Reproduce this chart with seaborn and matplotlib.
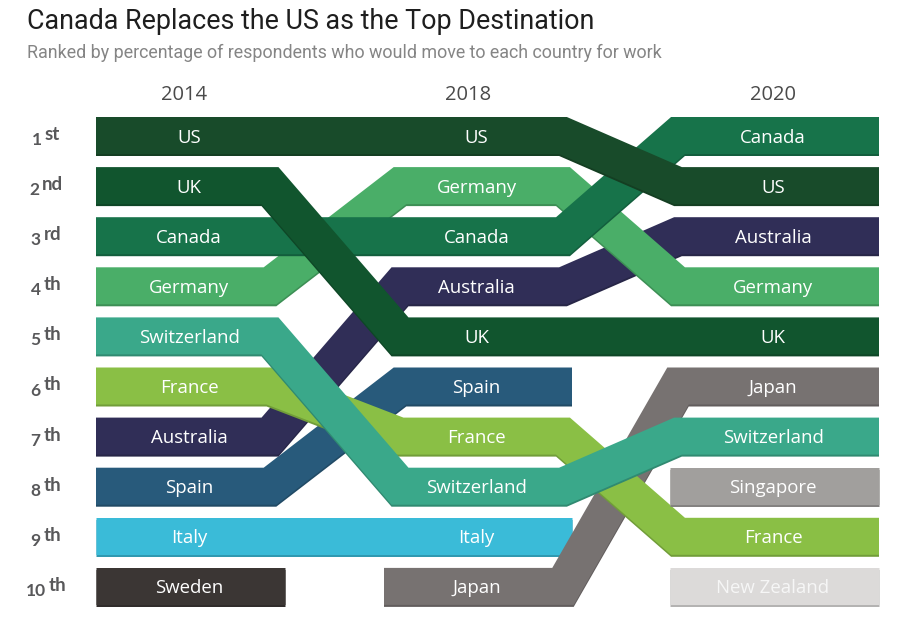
import matplotlib
matplotlib.use("Agg")
import matplotlib.pyplot as plt
import matplotlib.patheffects as pe
import matplotlib.colors as mcolors
import seaborn as sns
import pandas as pd

# ---------------- data ----------------
years = [2014, 2018, 2020]
rank_2014 = ["US", "UK", "Canada", "Germany", "Switzerland", "France",
             "Australia", "Spain", "Italy", "Sweden"]
rank_2018 = ["US", "Germany", "Canada", "Australia", "UK", "Spain",
             "France", "Switzerland", "Italy", "Japan"]
rank_2020 = ["Canada", "US", "Australia", "Germany", "UK", "Japan",
             "Switzerland", "Singapore", "France", "New Zealand"]
rank_numbers = ["1", "2", "3", "4", "5", "6", "7", "8", "9", "10"]
rank_suffixes = ["st", "nd", "rd", "th", "th", "th", "th", "th", "th", "th"]

title = "Canada Replaces the US as the Top Destination"
subtitle = "Ranked by percentage of respondents who would move to each country for work"

# ---------------- style ----------------
colors = {
    "US": "#184b2a", "UK": "#11552e", "Canada": "#17734a", "Germany": "#4aae68",
    "Switzerland": "#3aa88a", "France": "#8abf45", "Australia": "#302e57",
    "Spain": "#285a7b", "Italy": "#3abbd8", "Sweden": "#3b3634",
    "Japan": "#777271", "Singapore": "#a19f9d", "New Zealand": "#dcdad9",
}
label_colors = {"New Zealand": "#f6f6f6"}
draw_order = ["Italy", "Sweden", "Spain", "Australia", "Germany", "Canada", "US",
              "UK", "Japan", "France", "Switzerland", "Singapore", "New Zealand"]

sns.set_theme(style="white")
plt.rcParams["font.family"] = ["Open Sans", "DejaVu Sans"]

W, H, DPI = 900, 624, 100
fig = plt.figure(figsize=(W / DPI, H / DPI), dpi=DPI)
fig.patch.set_facecolor("white")
ax = fig.add_axes([0, 0, 1, 1])
ax.set_xlim(0, W)
row_top_px, row_step = 135.5, 50.1
ax.set_ylim(1 + (H - row_top_px) / row_step, 1 - row_top_px / row_step)
ax.axis("off")

block_start = [96, 384, 670]
block_end = [285, 572, 879]
gap_from = [270, 563]
gap_to = [400, 678]
year_x = [184, 468, 773]


def px2pt(p):
    return p * 72 / DPI


def darker(c, f=0.82):
    r, g, b = mcolors.to_rgb(c)
    return (r * f, g * f, b * f)


records = []
for yr, lst in zip(years, [rank_2014, rank_2018, rank_2020]):
    for i, c in enumerate(lst):
        records.append(dict(country=c, year=yr, rank=i + 1))
df = pd.DataFrame(records)

for z, c in enumerate(draw_order):
    sub = df[df.country == c].sort_values("year")
    idx = [years.index(y) for y in sub["year"]]
    ranks = list(sub["rank"])
    xs = [block_start[idx[0]]]
    ys = [ranks[0]]
    for k in range(1, len(idx)):
        if ranks[k] != ranks[k - 1]:
            g = idx[k - 1]
            xs += [gap_from[g], gap_to[g]]
            ys += [ranks[k - 1], ranks[k]]
    xs.append(block_end[idx[-1]])
    ys.append(ranks[-1])
    path = pd.DataFrame({"x": xs, "y": ys})
    sns.lineplot(data=path, x="x", y="y", sort=False, estimator=None, ax=ax,
                 color=colors[c], linewidth=px2pt(37),
                 solid_joinstyle="miter", solid_capstyle="butt", zorder=2 + z,
                 path_effects=[pe.SimpleLineShadow(offset=(0, -px2pt(2)),
                                                   shadow_color=darker(colors[c]), alpha=1),
                               pe.Normal()])

# bar labels
for yi, lst in enumerate([rank_2014, rank_2018, rank_2020]):
    cx = (block_start[yi] + block_end[yi]) / 2 - 1.5
    for i, c in enumerate(lst):
        ax.text(cx, i + 1, c, ha="center", va="center_baseline", fontsize=13.4,
                color=label_colors.get(c, "white"), zorder=50)

# year labels
for yi, yr in enumerate(years):
    fig.text(year_x[yi] / W, 1 - 95 / H, str(yr), ha="center", va="center",
             fontsize=14.5, color="#4a4a4a", family=["Open Sans", "DejaVu Sans"])

# rank labels
fig.canvas.draw()
renderer = fig.canvas.get_renderer()
rank_col = "#58585a"
for i, (n, s) in enumerate(zip(rank_numbers, rank_suffixes)):
    yc = row_top_px + i * row_step + 1
    tn = fig.text(0, 1 - (yc + 8.5) / H, n, ha="left", va="baseline", fontsize=12.5,
                  fontweight="bold", color=rank_col, family=["Lato", "DejaVu Sans"])
    ts = fig.text(0, 1 - (yc + 3.5) / H, s, ha="left", va="baseline", fontsize=13.5,
                  fontweight="bold", color=rank_col, family=["Lato", "DejaVu Sans"])
    wn = tn.get_window_extent(renderer).width
    ws = ts.get_window_extent(renderer).width
    gapx = 3
    total = wn + gapx + ws
    x0 = 46 - total / 2
    tn.set_x(x0 / W)
    ts.set_x((x0 + wn + gapx) / W)

# title / subtitle fitted to the reference width
tt = fig.text(27 / W, 1 - 29 / H, title, ha="left", va="baseline", fontsize=20,
              color="#1e1e1e", family=["Liberation Sans Narrow", "Roboto", "DejaVu Sans"])
st = fig.text(27 / W, 1 - 58 / H, subtitle, ha="left", va="baseline", fontsize=12,
              color="#858585", family=["Liberation Sans Narrow", "Roboto", "DejaVu Sans"])
for t, target in [(tt, 566), (st, 633)]:
    w = t.get_window_extent(renderer).width
    t.set_fontsize(t.get_fontsize() * target / w)

fig.savefig("out.png", dpi=DPI, facecolor="white")
